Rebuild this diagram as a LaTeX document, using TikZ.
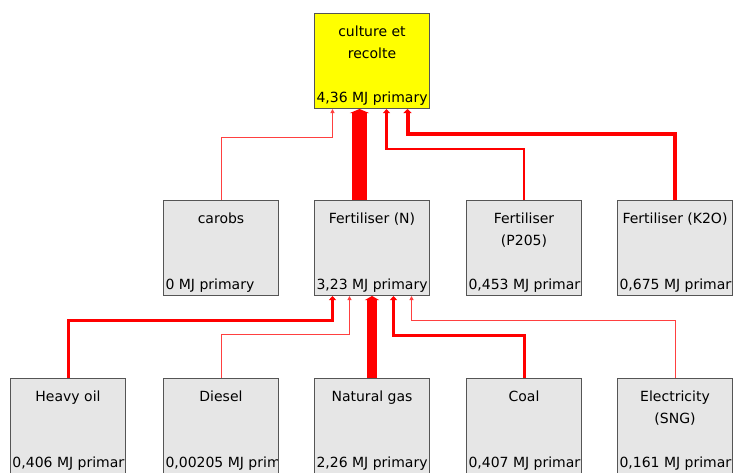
\documentclass[tikz,border=0pt]{standalone}
\usepackage{fontspec}
\setmainfont{DejaVu Sans}
\usetikzlibrary{arrows.meta}
\definecolor{FlowRed}{HTML}{FF0000}
\definecolor{BoxGrey}{HTML}{E6E6E6}
\definecolor{BoxEdge}{HTML}{555555}
\definecolor{RootYellow}{HTML}{FFFF00}

\begin{document}
\begin{tikzpicture}[
  x=1pt, y=-1pt,
  font=\fontsize{14}{22}\selectfont,
  boxtext/.style={inner sep=0pt, minimum width=0pt, minimum height=0pt},
  unit/.style 2 args={draw=BoxEdge, line width=1pt, fill=BoxGrey, anchor=north west,
    minimum width=115pt, minimum height=95pt, inner sep=0pt,
    path picture={
      \node[boxtext, anchor=north, align=center] at ([yshift=-11pt]path picture bounding box.north) {\rule{0pt}{11pt}#1};
      \node[boxtext, anchor=base west] at ([xshift=1.5pt, yshift=6pt]path picture bounding box.south west) {#2};
    }},
  root/.style 2 args={unit={#1}{#2}, fill=RootYellow},
  flow/.style={draw=FlowRed, line width=#1, -{Triangle[length=4pt, width=4pt 1]}},
  thinflow/.style={draw=FlowRed!75, line width=1pt, -{Triangle[length=4pt, width=4pt]}}
]
  \useasboundingbox (0,0) rectangle (733,472);
  \clip (0,0) rectangle (733,472);

  % top
  \node[root={culture et\\recolte}{4,36 MJ primary}] (culture) at (314,13) {};

  % fertilisers
  \node[unit={carobs}{0 MJ primary}] (carobs) at (163,200) {};
  \node[unit={Fertiliser (N)}{3,23 MJ primary}] (fertN) at (314,200) {};
  \node[unit={Fertiliser\\(P205)}{0,453 MJ primary}] (fertP) at (466,200) {};
  \node[unit={Fertiliser (K2O)}{0,675 MJ primary}] (fertK) at (617,200) {};

  % energy carriers
  \node[unit={Heavy oil}{0,406 MJ primary}] (heavyoil) at (10,378) {};
  \node[unit={Diesel}{0,00205 MJ primary}] (diesel) at (163,378) {};
  \node[unit={Natural gas}{2,26 MJ primary}] (natgas) at (314,378) {};
  \node[unit={Coal}{0,407 MJ primary}] (coal) at (466,378) {};
  \node[unit={Electricity\\(SNG)}{0,161 MJ primary}] (elec) at (617,378) {};

  % flows into culture et recolte
  \draw[thinflow] (carobs.north) -- ++(0,-63) -| ([xshift=-39.5pt]culture.south);
  \draw[flow=15pt] ([xshift=-12.5pt]fertN.north) -- ([xshift=-12.5pt]culture.south);
  \draw[flow=2.8pt] (fertP.north) -- ++(0,-51) -| ([xshift=14.5pt]culture.south);
  \draw[flow=4pt] (fertK.north) -- ++(0,-66) -| ([xshift=35.5pt]culture.south);

  % flows into Fertiliser (N)
  \draw[flow=3pt] (heavyoil.north) -- ++(0,-58) -| ([xshift=-39.5pt]fertN.south);
  \draw[thinflow] (diesel.north) -- ++(0,-44) -| ([xshift=-22.5pt]fertN.south);
  \draw[flow=10pt] (natgas.north) -- (fertN.south);
  \draw[flow=3pt] (coal.north) -- ++(0,-43) -| ([xshift=21.5pt]fertN.south);
  \draw[thinflow] (elec.north) -- ++(0,-58) -| ([xshift=39.5pt]fertN.south);
\end{tikzpicture}
\end{document}
